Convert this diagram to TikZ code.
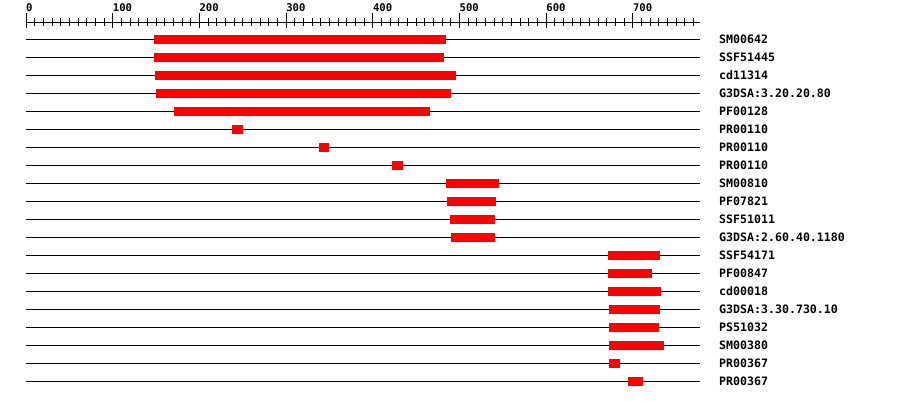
\documentclass[tikz,border=0pt]{standalone}
\usepackage{fontspec}
\setmonofont{DejaVu Sans Mono}
\usetikzlibrary{positioning}
\definecolor{dombar}{RGB}{255,0,0}
\tikzset{
  seqline/.style={draw=black, line width=1pt},
  dombox/.style={fill=dombar, draw=none},
  domlab/.style={anchor=base west, inner sep=0pt, font=\ttfamily\bfseries\fontsize{11.6}{12}\selectfont},
  ticklab/.style={anchor=base west, inner sep=0pt, font=\ttfamily\bfseries\fontsize{10.6}{11}\selectfont}
}
\begin{document}
\begin{tikzpicture}[x=1pt, y=-1pt]
  \useasboundingbox (0,0) rectangle (900,400);
  % ruler
  \draw[seqline] (26,22) -- (700,22);
  \foreach \u in {0,10,...,770}
    \draw[seqline] (26+0.867*\u,18) -- (26+0.867*\u,26);
  \foreach \u in {0,100,...,700} {
    \draw[seqline] (26+0.867*\u,13) -- (26+0.867*\u,28);
    \node[ticklab] (t\u) at (26+0.867*\u,11) {\u};
  }
  % one row per match
  \foreach \lab/\s/\e [count=\i] in {
      SM00642/148/484, SSF51445/148/482, cd11314/149/496,
      G3DSA:3.20.20.80/150/490, PF00128/171/466,
      PR00110/238/250, PR00110/338/349, PR00110/422/435,
      SM00810/484/546, PF07821/486/542, SSF51011/489/541,
      G3DSA:2.60.40.1180/490/541,
      SSF54171/671/731, PF00847/671/722, cd00018/671/732,
      G3DSA:3.30.730.10/672/731, PS51032/672/730, SM00380/672/736,
      PR00367/672/685, PR00367/694/712} {
    \pgfmathsetmacro{\ry}{21+18*\i}
    \draw[seqline] (26,\ry) -- (700,\ry);
    \fill[dombox] (26+0.867*\s,\ry-4.5) rectangle (26+0.867*\e,\ry+4.5);
    \node[domlab] (d\i) at (719,\ry+4.2) {\lab};
  }
\end{tikzpicture}
\end{document}
